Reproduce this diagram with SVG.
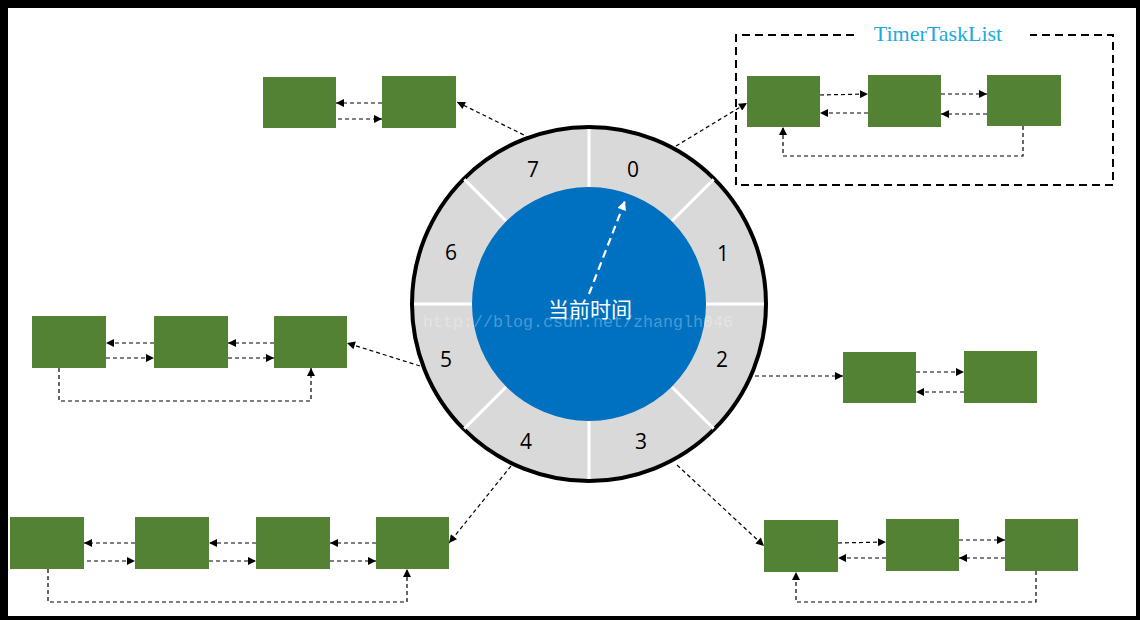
<svg xmlns="http://www.w3.org/2000/svg" width="1140" height="620" viewBox="0 0 1140 620">
<style>
.box{fill:#548235}
.c{fill:none;stroke:#000;stroke-width:1.2;stroke-dasharray:4 3}
.num{font-family:"Open Sans","Liberation Sans",sans-serif;font-size:21px;fill:#000;text-anchor:middle;dominant-baseline:central}
.div{stroke:#fff;stroke-width:3}
</style>
<defs>
<marker id="ah" viewBox="0 0 10 10" refX="10" refY="5" markerWidth="9" markerHeight="8" markerUnits="userSpaceOnUse" orient="auto">
<path d="M0,0 L10,5 L0,10 z" fill="#000"/>
</marker>
<marker id="wh" viewBox="0 0 10 10" refX="10" refY="5" markerWidth="10" markerHeight="9" markerUnits="userSpaceOnUse" orient="auto">
<path d="M0,0 L10,5 L0,10 z" fill="#fff"/>
</marker>
</defs>
<rect x="0" y="0" width="1140" height="620" fill="#000"/>
<rect x="8" y="8" width="1128" height="608" fill="#fff"/>

<g id="wheel">
<circle cx="589" cy="304" r="177" fill="#d9d9d9" stroke="#000" stroke-width="4"/>
<g class="div">
<line x1="589" y1="187" x2="589" y2="129"/>
<line x1="589" y1="421" x2="589" y2="479"/>
<line x1="472" y1="304" x2="414" y2="304"/>
<line x1="706" y1="304" x2="764" y2="304"/>
<line x1="671.7" y1="221.3" x2="713.6" y2="179.4"/>
<line x1="506.3" y1="221.3" x2="464.4" y2="179.4"/>
<line x1="671.7" y1="386.7" x2="713.6" y2="428.6"/>
<line x1="506.3" y1="386.7" x2="464.4" y2="428.6"/>
</g>
<circle cx="589" cy="304" r="117" fill="#0070c0"/>
<text class="num" x="633" y="169">0</text>
<text class="num" x="723" y="253">1</text>
<text class="num" x="722" y="359">2</text>
<text class="num" x="641" y="441">3</text>
<text class="num" x="526" y="441">4</text>
<text class="num" x="446" y="359">5</text>
<text class="num" x="451" y="252">6</text>
<text class="num" x="533" y="169">7</text>
<line x1="589" y1="294" x2="625" y2="201" stroke="#fff" stroke-width="2.2" stroke-dasharray="8 5" marker-end="url(#wh)"/>
<text x="590" y="308" font-family="'Noto Sans CJK SC',sans-serif" font-size="21" fill="#fff" text-anchor="middle" dominant-baseline="central">当前时间</text>
<text x="423" y="327" font-family="'Liberation Mono',monospace" font-size="16" fill="#fff" fill-opacity="0.3" textLength="310" lengthAdjust="spacingAndGlyphs">http://blog.csdn.net/zhanglh046</text>
</g>

<g id="timer-task-list">
<path d="M854,35 L736,35 L736,185 L1113,185 L1113,35 L1030,35" fill="none" stroke="#000" stroke-width="2" stroke-dasharray="8 5"/>
<text x="938" y="41" font-family="'Liberation Serif',serif" font-size="22" fill="#1ca9e1" text-anchor="middle">TimerTaskList</text>
</g>

<g id="slot0-list">
<rect id="t0a" class="box" x="747" y="76" width="73" height="51"/>
<rect id="t0b" class="box" x="868" y="75" width="73" height="52"/>
<rect id="t0c" class="box" x="987" y="75" width="74" height="51"/>
</g>
<g id="slot7-list">
<rect class="box" x="263" y="77" width="73" height="51"/>
<rect class="box" x="382" y="76" width="74" height="52"/>
</g>
<g id="slot5-list">
<rect class="box" x="32" y="316" width="74" height="52"/>
<rect class="box" x="154" y="316" width="74" height="52"/>
<rect class="box" x="274" y="316" width="73" height="52"/>
</g>
<g id="slot2-list">
<rect class="box" x="843" y="352" width="73" height="51"/>
<rect class="box" x="964" y="351" width="73" height="52"/>
</g>
<g id="slot4-list">
<rect class="box" x="10" y="517" width="74" height="52"/>
<rect class="box" x="135" y="517" width="74" height="52"/>
<rect class="box" x="256" y="517" width="74" height="52"/>
<rect class="box" x="376" y="517" width="73" height="52"/>
</g>
<g id="slot3-list">
<rect class="box" x="764" y="520" width="74" height="52"/>
<rect class="box" x="886" y="519" width="73" height="52"/>
<rect class="box" x="1005" y="519" width="73" height="52"/>
</g>

<g id="connectors" class="c">
<line x1="676" y1="146" x2="747" y2="103" marker-end="url(#ah)"/>
<line x1="530" y1="138" x2="457" y2="102" marker-end="url(#ah)"/>
<line x1="420" y1="366" x2="347" y2="343" marker-end="url(#ah)"/>
<line x1="755" y1="376" x2="843" y2="376" marker-end="url(#ah)"/>
<line x1="511" y1="466" x2="449" y2="543" marker-end="url(#ah)"/>
<line x1="677" y1="465" x2="764" y2="546" marker-end="url(#ah)"/>
<line x1="820" y1="95" x2="868" y2="94" marker-end="url(#ah)"/>
<line x1="941" y1="94" x2="987" y2="94" marker-end="url(#ah)"/>
<line x1="868" y1="113" x2="820" y2="113" marker-end="url(#ah)"/>
<line x1="987" y1="114" x2="941" y2="114" marker-end="url(#ah)"/>
<path d="M1023,126 L1023,156 L783,156 L783,127" marker-end="url(#ah)"/>
<line x1="382" y1="103" x2="336" y2="103" marker-end="url(#ah)"/>
<line x1="338" y1="119" x2="382" y2="119" marker-end="url(#ah)"/>
<line x1="154" y1="343" x2="106" y2="343" marker-end="url(#ah)"/>
<line x1="274" y1="343" x2="228" y2="343" marker-end="url(#ah)"/>
<line x1="106" y1="358" x2="154" y2="358" marker-end="url(#ah)"/>
<line x1="228" y1="358" x2="274" y2="358" marker-end="url(#ah)"/>
<path d="M59,368 L59,401 L311,401 L311,368" marker-end="url(#ah)"/>
<line x1="916" y1="372" x2="964" y2="372" marker-end="url(#ah)"/>
<line x1="964" y1="392" x2="916" y2="392" marker-end="url(#ah)"/>
<line x1="135" y1="543" x2="84" y2="543" marker-end="url(#ah)"/>
<line x1="256" y1="543" x2="209" y2="543" marker-end="url(#ah)"/>
<line x1="376" y1="543" x2="330" y2="543" marker-end="url(#ah)"/>
<line x1="87" y1="561" x2="135" y2="561" marker-end="url(#ah)"/>
<line x1="209" y1="561" x2="256" y2="561" marker-end="url(#ah)"/>
<line x1="330" y1="561" x2="376" y2="561" marker-end="url(#ah)"/>
<path d="M48,569 L48,602 L407,602 L407,569" marker-end="url(#ah)"/>
<line x1="838" y1="543" x2="886" y2="542" marker-end="url(#ah)"/>
<line x1="959" y1="540" x2="1005" y2="540" marker-end="url(#ah)"/>
<line x1="886" y1="558" x2="838" y2="558" marker-end="url(#ah)"/>
<line x1="1005" y1="558" x2="959" y2="558" marker-end="url(#ah)"/>
<path d="M1036,571 L1036,602 L796,602 L796,572" marker-end="url(#ah)"/>
</g>
</svg>
